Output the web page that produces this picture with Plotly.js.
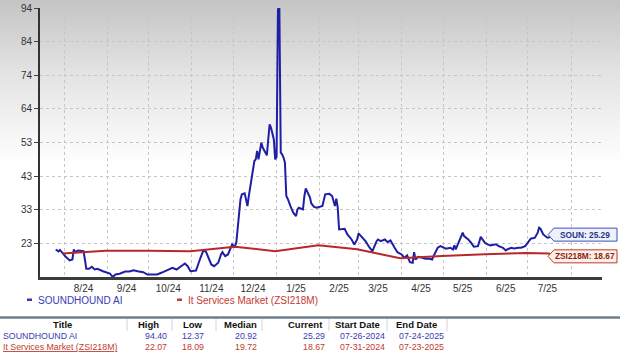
<!DOCTYPE html>
<html>
<head>
<meta charset="utf-8">
<script src="https://cdn.plot.ly/plotly-3.0.1.min.js"></script>
<style>
html,body{margin:0;padding:0;background:#fff;}
#chart{width:620px;height:358px;background:linear-gradient(to bottom,#c4c4c4 0px,#e2e2e2 70px,#ffffff 165px,#ffffff 358px);}
</style>
</head>
<body>
<div id="chart"></div>
<script>
// ---------- DATA ----------
const sounDates = ['2024-07-26','2024-07-28','2024-07-29','2024-07-31','2024-08-02','2024-08-05','2024-08-07','2024-08-08','2024-08-09','2024-08-11','2024-08-13','2024-08-15','2024-08-16','2024-08-17','2024-08-19','2024-08-21','2024-08-23','2024-08-25','2024-08-29','2024-09-01','2024-09-03','2024-09-05','2024-09-07','2024-09-10','2024-09-14','2024-09-17','2024-09-20','2024-09-23','2024-09-27','2024-09-30','2024-10-03','2024-10-07','2024-10-10','2024-10-14','2024-10-16','2024-10-18','2024-10-21','2024-10-23','2024-10-25','2024-10-27','2024-10-29','2024-10-31','2024-11-02','2024-11-04','2024-11-06','2024-11-08','2024-11-09','2024-11-11','2024-11-13','2024-11-15','2024-11-17','2024-11-20','2024-11-22','2024-11-23','2024-11-25','2024-11-27','2024-11-29','2024-11-30','2024-12-01','2024-12-02','2024-12-03','2024-12-05','2024-12-06','2024-12-07','2024-12-09','2024-12-10','2024-12-11','2024-12-12','2024-12-14','2024-12-15','2024-12-16','2024-12-17','2024-12-18','2024-12-19','2024-12-20','2024-12-21','2024-12-22','2024-12-24','2024-12-25','2024-12-26','2024-12-27','2024-12-28','2024-12-29','2024-12-30','2024-12-31','2025-01-01','2025-01-02','2025-01-03','2025-01-04','2025-01-05','2025-01-06','2025-01-07','2025-01-08','2025-01-09','2025-01-11','2025-01-13','2025-01-15','2025-01-16','2025-01-17','2025-01-19','2025-01-20','2025-01-21','2025-01-22','2025-01-23','2025-01-25','2025-01-26','2025-01-28','2025-01-30','2025-02-01','2025-02-03','2025-02-05','2025-02-08','2025-02-10','2025-02-12','2025-02-13','2025-02-14','2025-02-15','2025-02-18','2025-02-19','2025-02-21','2025-02-24','2025-02-26','2025-02-28','2025-03-01','2025-03-03','2025-03-05','2025-03-06','2025-03-09','2025-03-11','2025-03-14','2025-03-15','2025-03-17','2025-03-20','2025-03-22','2025-03-24','2025-03-27','2025-03-29','2025-04-01','2025-04-03','2025-04-05','2025-04-07','2025-04-09','2025-04-10','2025-04-11','2025-04-13','2025-04-16','2025-04-18','2025-04-21','2025-04-23','2025-04-24','2025-04-27','2025-04-29','2025-05-01','2025-05-03','2025-05-06','2025-05-08','2025-05-09','2025-05-10','2025-05-13','2025-05-15','2025-05-16','2025-05-19','2025-05-21','2025-05-23','2025-05-26','2025-05-28','2025-05-29','2025-05-31','2025-06-02','2025-06-04','2025-06-07','2025-06-08','2025-06-10','2025-06-13','2025-06-15','2025-06-16','2025-06-19','2025-06-21','2025-06-24','2025-06-26','2025-06-29','2025-07-01','2025-07-03','2025-07-06','2025-07-08','2025-07-09','2025-07-10','2025-07-12','2025-07-14','2025-07-15','2025-07-18','2025-07-21','2025-07-24'];
const sounValues = [20.77,20.16,20.62,19.55,18.63,17.41,17.72,20.77,19.94,20.46,20.25,20.25,17.72,14.87,14.87,15.49,14.66,14.87,14.14,13.84,13.44,12.37,13.13,13.35,14.05,14.05,14.45,14.14,13.84,13.13,13.04,13.13,13.65,14.45,14.87,15.18,14.66,15.18,15.88,16.49,15.67,14.14,14.20,14.36,16.80,19.24,20.25,20.25,18.23,16.19,15.67,16.71,19.24,19.94,18.72,19.24,21.29,22.30,21.78,21.78,22.82,30.94,36.04,37.57,37.87,36.04,34.00,37.05,42.67,45.72,47.74,48.26,50.79,48.26,51.30,53.36,51.83,50.09,49.48,54.37,58.95,57.90,56.40,54.37,48.26,49.00,94.00,94.40,50.30,49.80,48.78,47.25,37.05,36.25,34.00,31.98,30.94,32.99,33.50,32.99,32.99,37.00,39.40,38.50,36.65,34.80,33.75,33.50,33.80,34.00,37.57,37.72,37.05,34.00,36.25,33.60,26.88,26.88,27.09,25.35,23.82,22.30,23.82,25.66,24.65,23.82,23.30,21.29,20.25,23.30,23.82,23.30,23.82,23.00,23.52,21.29,19.94,19.24,18.23,18.94,16.89,16.71,19.94,17.72,18.54,18.23,17.93,17.93,17.72,18.72,21.29,21.78,21.29,20.98,21.29,20.77,21.99,20.77,23.82,25.87,24.83,23.82,22.82,21.59,21.78,24.65,24.00,22.82,22.30,21.99,22.30,22.30,21.78,21.29,20.46,20.77,21.29,21.07,21.29,21.29,21.78,22.82,24.04,24.34,25.87,27.40,27.09,25.35,24.65,24.34,24.60,25.00,25.29];

const zsiDates = ['2024-07-31','2024-08-31','2024-09-30','2024-10-31','2024-12-02','2024-12-31','2025-01-31','2025-02-28','2025-03-31','2025-04-30','2025-05-31','2025-06-30','2025-07-16','2025-07-23'];
const zsiValues = [19.55,20.40,20.40,20.20,21.60,20.25,22.07,20.80,18.09,18.80,19.30,19.70,19.50,18.67];

const seriesNames = ['SOUNDHOUND AI','It Services Market (ZSI218M)'];
const seriesShort = ['SOUN','ZSI218M'];
const statHigh = ['94.40','22.07'];
const statLow = ['12.37','18.09'];
const statMedian = ['20.92','19.72'];
const statCurrent = ['25.29','18.67'];
const statStart = ['07-26-2024','07-31-2024'];
const statEnd = ['07-24-2025','07-23-2025'];
const tableHeaders = ['Title','High','Low','Median','Current','Start Date','End Date'];

const xTickVals = ['2024-08-15','2024-09-15','2024-10-15','2024-11-15','2024-12-15','2025-01-15','2025-02-15','2025-03-15','2025-04-15','2025-05-15','2025-06-15','2025-07-15'];
const xTickText = ['8/24','9/24','10/24','11/24','12/24','1/25','2/25','3/25','4/25','5/25','6/25','7/25'];
const xGridVals = ['2024-08-01','2024-09-01','2024-10-01','2024-11-01','2024-12-01','2025-01-01','2025-02-01','2025-03-01','2025-04-01','2025-05-01','2025-06-01','2025-07-01','2025-08-01'];
const yTickVals = [22.62,32.88,43.13,53.39,63.64,73.89,84.15,94.40];
const yTickText = ['23','33','43','53','64','74','84','94'];

// ---------- STYLE / LAYOUT ----------
const BLUE = '#1f1fa6', RED = '#b8282a';
const BLUE_T = '#3a3ab4', RED_T = '#c23a30';
const FONT = 'Liberation Sans, Arial, sans-serif';
const L = 40, R = 602, T = 8, B = 277;
const px = v => (v - L) / (R - L);
const py = v => (B - v) / (B - T);
const yMin = Math.min(...sounValues), yMax = Math.max(...sounValues);
const yFrac = v => (v - yMin) / (yMax - yMin);

const traces = [
  {x: sounDates, y: sounValues, type: 'scatter', mode: 'lines', name: seriesNames[0],
   line: {color: BLUE, width: 2}},
  {x: zsiDates, y: zsiValues, type: 'scatter', mode: 'lines', name: seriesNames[1],
   line: {color: RED, width: 2}}
];

const shapes = [];
const ann = [];

// legend
[[27, BLUE_T, 36], [177, RED_T, 186]].forEach((d, i) => {
  shapes.push({type: 'rect', xref: 'paper', yref: 'paper', x0: px(d[0]), x1: px(d[0] + 5),
    y0: py(301), y1: py(298.5), fillcolor: d[1], line: {width: 0}});
  ann.push({xref: 'paper', yref: 'paper', x: px(d[2]), y: py(300), xanchor: 'left', yanchor: 'middle',
    showarrow: false, text: seriesNames[i], font: {family: FONT, size: 10, color: d[1]}});
});

// table separator
shapes.push({type: 'line', xref: 'paper', yref: 'paper', x0: px(0), x1: px(620), y0: py(317.5), y1: py(317.5),
  line: {color: '#6e7e8e', width: 2.5}});
[127, 172, 216, 262, 329, 387, 447].forEach(x => {
  shapes.push({type: 'line', xref: 'paper', yref: 'paper', x0: px(x), x1: px(x), y0: py(319), y1: py(331),
    line: {color: '#d4d4d4', width: 1}});
});
const headerX = [62, 148, 193, 240, 305, 357, 416];
tableHeaders.forEach((h, i) => {
  ann.push({xref: 'paper', yref: 'paper', x: px(headerX[i]), y: py(324.5), xanchor: 'center', yanchor: 'middle',
    showarrow: false, text: '<b>' + h + '</b>', font: {family: FONT, size: 9.5, color: '#111'}});
});
const rowY = [335.5, 346.5], rowCol = [BLUE_T, RED_T];
[0, 1].forEach(r => {
  const f = {family: FONT, size: 8.8, color: rowCol[r]};
  const cell = (t, x, anchor) => ann.push({xref: 'paper', yref: 'paper', x: px(x), y: py(rowY[r]),
    xanchor: anchor, yanchor: 'middle', showarrow: false, text: t, font: f});
  cell(r === 1 ? '<u>' + seriesNames[r] + '</u>' : seriesNames[r], 1, 'left');
  cell(statHigh[r], 169, 'right');
  cell(statLow[r], 206, 'right');
  cell(statMedian[r], 259, 'right');
  cell(statCurrent[r], 327, 'right');
  cell(statStart[r], 338, 'left');
  cell(statEnd[r], 397, 'left');
});

// end-value label boxes
const lastS = sounValues[sounValues.length - 1], lastZ = zsiValues[zsiValues.length - 1];
[[lastS, '#eef0fb', '#4252b8', '#26348a', 0], [lastZ, '#fcf1e4', '#c0392b', '#8e1c1c', 1]].forEach(d => {
  shapes.push({type: 'path', xref: 'paper', yref: 'paper', xsizemode: 'pixel', ysizemode: 'pixel',
    xanchor: px(548), yanchor: yFrac(d[0]), layer: 'above',
    path: 'M0,0 L6,6.5 L69,6.5 L69,-6.5 L6,-6.5 Z', fillcolor: d[1], line: {color: d[2], width: 1}});
  ann.push({xref: 'paper', yref: 'paper', x: px(585), y: yFrac(d[0]), xanchor: 'center', yanchor: 'middle',
    showarrow: false, text: '<b>' + seriesShort[d[4]] + ': ' + d[0].toFixed(2) + '</b>',
    font: {family: FONT, size: 8.3, color: d[3]}});
});

const layout = {
  width: 620, height: 358,
  margin: {l: L, r: 620 - R, t: T, b: 358 - B},
  paper_bgcolor: 'rgba(0,0,0,0)', plot_bgcolor: 'rgba(0,0,0,0)',
  showlegend: false,
  font: {family: FONT, size: 10, color: '#333'},
  xaxis: {
    type: 'date', range: ['2024-07-14 16:00', '2025-08-23 07:00'],
    tickmode: 'array', tickvals: xTickVals, ticktext: xTickText, ticks: '',
    showgrid: false, zeroline: false,
    showline: true, linecolor: '#3c3c3c', linewidth: 3,
    tickfont: {family: FONT, size: 10, color: '#333'},
    minor: {tickmode: 'array', tickvals: xGridVals, showgrid: true, gridcolor: '#c6c6c6', griddash: 'dot', gridwidth: 1, ticks: ''}
  },
  yaxis: {
    range: [yMin, yMax], tickmode: 'array', tickvals: yTickVals, ticktext: yTickText,
    ticks: 'outside', ticklen: 4, tickcolor: '#444', tickwidth: 1,
    showgrid: true, gridcolor: '#c6c6c6', griddash: 'dot', gridwidth: 1, zeroline: false,
    showline: true, linecolor: '#333', linewidth: 2,
    tickfont: {family: FONT, size: 10, color: '#333'}
  },
  shapes: shapes,
  annotations: ann
};

Plotly.newPlot('chart', traces, layout, {staticPlot: true, displayModeBar: false});
</script>
</body>
</html>
